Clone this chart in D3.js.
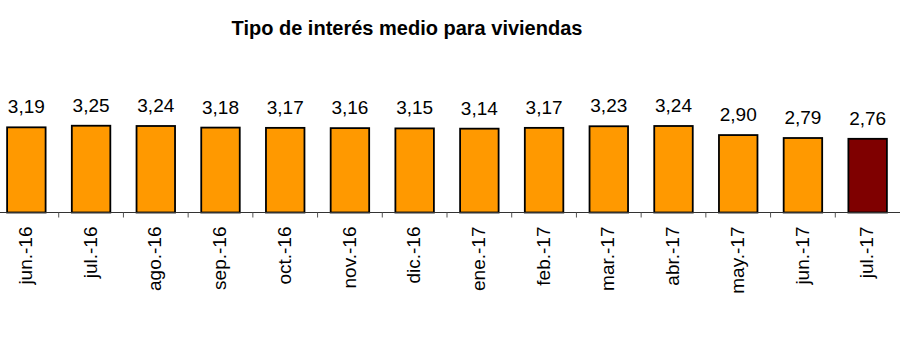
<!DOCTYPE html>
<html><head><meta charset="utf-8">
<script src="https://cdn.jsdelivr.net/npm/d3@7"></script>
<style>body{margin:0;background:#fff}svg{display:block}</style>
</head><body>
<svg id="c" width="900" height="357"></svg>
<script>
const categories = ["jun.-16","jul.-16","ago.-16","sep.-16","oct.-16","nov.-16","dic.-16","ene.-17","feb.-17","mar.-17","abr.-17","may.-17","jun.-17","jul.-17"];
const values = [3.19,3.25,3.24,3.18,3.17,3.16,3.15,3.14,3.17,3.23,3.24,2.90,2.79,2.76];
const title = "Tipo de interés medio para viviendas";

const svg = d3.select("#c");
const font = "Liberation Sans, Arial, sans-serif";
const x = d3.scaleBand().domain(categories).range([-6, 900]).paddingInner(0.405).paddingOuter(0.2025);
const y = d3.scaleLinear().domain([0, 4]).range([212.5, 105.7]);

svg.append("text").attr("x", 407).attr("y", 35).attr("text-anchor", "middle")
  .attr("font-family", font).attr("font-weight", "bold").attr("font-size", 20).attr("fill", "#000").text(title);

svg.selectAll("rect.bar").data(values).join("rect").attr("class","bar")
  .attr("x", (d,i) => x(categories[i]))
  .attr("width", x.bandwidth())
  .attr("y", d => y(d))
  .attr("height", d => y(0) - y(d))
  .attr("fill", (d,i) => i === values.length-1 ? "#7f0000" : "#ff9900")
  .attr("stroke", "#000").attr("stroke-width", 1.8);

svg.selectAll("text.val").data(values).join("text").attr("class","val")
  .attr("x", (d,i) => x(categories[i]) + x.bandwidth()/2)
  .attr("y", d => y(d) - 14)
  .attr("text-anchor", "middle").attr("font-family", font).attr("font-size", 19).attr("fill", "#000")
  .text(d => d.toFixed(2).replace(".", ","));

// axis
const ax = svg.append("g");
ax.append("line").attr("x1", 0).attr("x2", 900).attr("y1", y(0)).attr("y2", y(0)).attr("stroke", "#333").attr("stroke-width", 1.2);
const step = x.step();
ax.selectAll("line.tick").data(categories.slice(1)).join("line").attr("class","tick")
  .attr("x1", d => x(d) - (step - x.bandwidth())/2).attr("x2", d => x(d) - (step - x.bandwidth())/2)
  .attr("y1", y(0)).attr("y2", y(0) + 5).attr("stroke", "#555").attr("stroke-width", 1);
ax.selectAll("text.lab").data(categories).join("text").attr("class","lab")
  .attr("transform", d => `translate(${x(d) + x.bandwidth()/2},226.5) rotate(-90)`)
  .attr("text-anchor", "end").attr("dy", "0.3em")
  .attr("font-family", font).attr("font-size", 19).attr("fill", "#000").text(d => d);
</script>
</body></html>
